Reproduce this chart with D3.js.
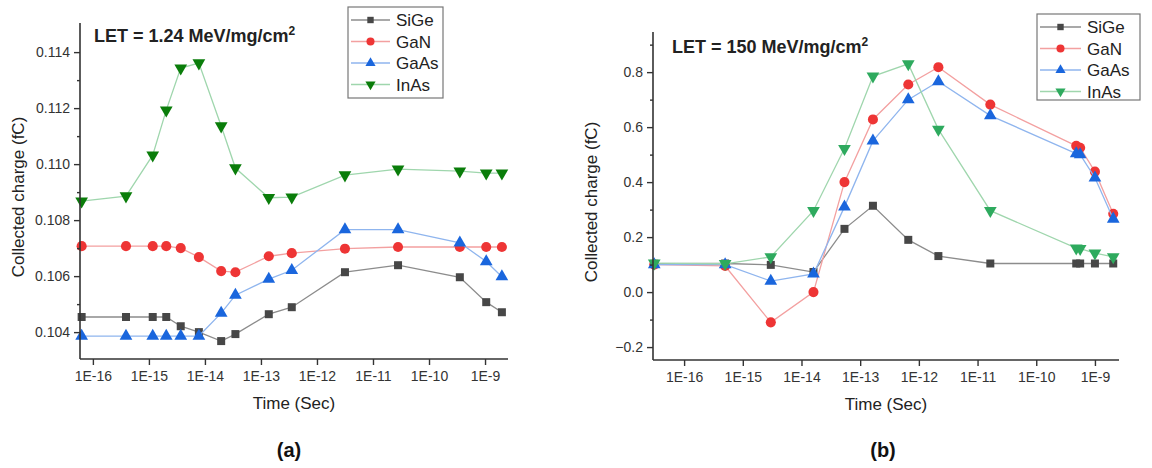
<!DOCTYPE html>
<html>
<head>
<meta charset="utf-8">
<script src="https://cdn.jsdelivr.net/npm/d3@7"></script>
<style>
  body { margin: 0; background: #fff; }
  svg { font-family: "Liberation Sans", Arial, sans-serif; }
</style>
</head>
<body>
<svg id="chart" width="1152" height="468"></svg>
<script>
// ---- data ----
const seriesKeys = ['SiGe', 'GaN', 'GaAs', 'InAs'];

// panel (a) LET = 1.24
const timeA = [6.3e-17, 3.9e-16, 1.17e-15, 2.04e-15, 3.7e-15, 7.8e-15, 1.95e-14, 3.5e-14,
               1.38e-13, 3.55e-13, 3.16e-12, 2.8e-11, 3.55e-10, 1.05e-9, 2e-9];
const sigeA = [0.10454, 0.10454, 0.10454, 0.10454, 0.10421, 0.10400, 0.10368, 0.10393,
               0.10464, 0.10489, 0.10614, 0.10639, 0.10596, 0.10507, 0.10471];
const ganA  = [0.10707, 0.10707, 0.10707, 0.10707, 0.10700, 0.10668, 0.10618, 0.10614,
               0.10671, 0.10682, 0.10698, 0.10704, 0.10704, 0.10704, 0.10704];
const gaasA = [0.10386, 0.10386, 0.10386, 0.10386, 0.10386, 0.10386, 0.10468, 0.10532,
               0.10589, 0.10621, 0.10766, 0.10766, 0.10719, 0.10652, 0.10598];
const inasA = [0.10868, 0.10886, 0.11032, 0.11193, 0.11343, 0.11361, 0.11136, 0.10986,
               0.10880, 0.10882, 0.10961, 0.10982, 0.10975, 0.10968, 0.10968];

// panel (b) LET = 150
const timeB = [3.1e-17, 5e-16, 3e-15, 1.6e-14, 5.4e-14, 1.65e-13, 6.6e-13, 2.15e-12,
               1.65e-11, 4.8e-10, 5.6e-10, 1e-9, 2.05e-9];
const sigeB = [0.103, 0.104, 0.099, 0.073, 0.230, 0.314, 0.190, 0.131, 0.104, 0.104, 0.104, 0.104, 0.104];
const ganB  = [0.100, 0.095, -0.110, 0.000, 0.400, 0.628, 0.755, 0.818, 0.682, 0.532, 0.525, 0.438, 0.285];
const gaasB = [0.100, 0.100, 0.040, 0.066, 0.310, 0.550, 0.700, 0.766, 0.642, 0.504, 0.500, 0.416, 0.266];
const inasB = [0.105, 0.103, 0.128, 0.296, 0.522, 0.785, 0.830, 0.592, 0.296, 0.160, 0.158, 0.142, 0.128];

const xTicks = [1e-16, 1e-15, 1e-14, 1e-13, 1e-12, 1e-11, 1e-10, 1e-9];
const yTicksA = [0.104, 0.106, 0.108, 0.110, 0.112, 0.114];
const yMinorA = [0.105, 0.107, 0.109, 0.111, 0.113];
const yTicksB = [-0.2, 0.0, 0.2, 0.4, 0.6, 0.8];
const yMinorB = [-0.1, 0.1, 0.3, 0.5, 0.7, 0.9];

const svg = d3.select('#chart');
const axisColor = '#333';

const markerColor = {SiGe: '#474747', GaN: '#ee3535', GaAs: '#1a66dd', InAs: '#0a7d0a'};
const lineColor = {SiGe: '#8c8c8c', GaN: '#f3a0a0', GaAs: '#8fb5ee', InAs: '#9fd6ad'};

function markerPath(key) {
    if (key == 'SiGe') return d3.symbol(d3.symbolSquare, 64)();
    if (key == 'GaN') return d3.symbol(d3.symbolCircle, 80)();
    return d3.symbol(d3.symbolTriangle, 70)();
}

function drawPanel(p) {
    const x = d3.scaleLog().domain(p.xDomain).range([p.left, p.right]);
    const y = d3.scaleLinear().domain(p.yDomain).range([p.bottom, p.top]);
    const g = svg.append('g');

    // lines + markers
    p.series.forEach(s => {
        const pts = p.time.map((t, i) => [t, s.values[i]]);
        const mc = s.key == 'InAs' ? p.inasMarker : markerColor[s.key];
        g.append('path')
            .datum(pts)
            .attr('fill', 'none')
            .attr('stroke', lineColor[s.key])
            .attr('stroke-width', 1.3)
            .attr('d', d3.line().x(d => x(d[0])).y(d => y(d[1])));
        g.selectAll(null)
            .data(pts)
            .join('path')
            .attr('d', markerPath(s.key))
            .attr('fill', mc)
            .attr('transform', d => `translate(${x(d[0])},${y(d[1])})` + (s.key == 'InAs' ? ' rotate(180)' : ''));
    });

    // axes
    const xAxis = g.append('g')
        .attr('transform', `translate(0,${p.bottom})`)
        .call(d3.axisBottom(x).tickValues(xTicks).tickSize(6).tickPadding(6)
            .tickFormat(d => '1E' + Math.round(Math.log10(d))));
    const yAxis = g.append('g')
        .attr('transform', `translate(${p.left},0)`)
        .call(d3.axisLeft(y).tickValues(p.yTicks).tickSize(6).tickPadding(4)
            .tickFormat(d3.format(p.yFormat)));
    g.append('g')
        .attr('transform', `translate(${p.left},0)`)
        .call(d3.axisLeft(y).tickValues(p.yMinor).tickSize(3).tickFormat(''))
        .select('.domain').remove();

    [xAxis, yAxis].forEach(a => {
        a.select('.domain').attr('stroke', axisColor).attr('stroke-width', 1.6)
            .attr('d', a === xAxis ? `M${p.left},0H${p.right}` : `M0,${p.bottom}V${p.top}`);
        a.selectAll('.tick text').attr('fill', axisColor).style('font-size', '14px')
            .style('font-family', '"Liberation Sans", Arial, sans-serif');
    });
    g.selectAll('.tick line').attr('stroke', axisColor).attr('stroke-width', 1.4);

    // axis titles
    g.append('text')
        .attr('x', (p.left + p.right) / 2)
        .attr('y', p.bottom + 50)
        .attr('text-anchor', 'middle')
        .style('font-size', '17px')
        .attr('fill', '#222')
        .text('Time (Sec)');

    g.append('text')
        .attr('transform', `translate(${p.left - 56},${(p.top + p.bottom) / 2 + 6}) rotate(-90)`)
        .attr('text-anchor', 'middle')
        .style('font-size', '17px')
        .attr('fill', '#222')
        .text('Collected charge (fC)');

    // LET title
    const t = g.append('text')
        .attr('x', p.titleX)
        .attr('y', p.titleY)
        .style('font-size', '18px')
        .style('font-weight', 'bold')
        .attr('fill', '#222')
        .text(p.title);
    t.append('tspan').attr('dy', -7).style('font-size', '12px').text('2');

    // legend
    const lg = g.append('g').attr('transform', `translate(${p.legendX},${p.legendY})`);
    lg.append('rect')
        .attr('width', p.legendW).attr('height', p.legendH)
        .attr('fill', '#fff').attr('stroke', '#777').attr('stroke-width', 1.2);
    seriesKeys.forEach((k, i) => {
        const yy = 13 + i * p.legendStep;
        lg.append('line')
            .attr('x1', 3).attr('x2', p.legendLine)
            .attr('y1', yy).attr('y2', yy)
            .attr('stroke', lineColor[k]).attr('stroke-width', 1.3);
        lg.append('path')
            .attr('d', markerPath(k))
            .attr('fill', k == 'InAs' ? p.inasMarker : markerColor[k])
            .attr('transform', `translate(${(3 + p.legendLine) / 2},${yy})` + (k == 'InAs' ? ' rotate(180)' : '') + ' scale(0.8)');
        lg.append('text')
            .attr('x', p.legendLine + 6)
            .attr('y', yy + 6)
            .style('font-size', '17px')
            .attr('fill', '#222')
            .text(k);
    });

    // panel letter
    g.append('text')
        .attr('x', p.letterX)
        .attr('y', 457)
        .attr('text-anchor', 'middle')
        .style('font-size', '20px')
        .style('font-weight', 'bold')
        .attr('fill', '#111')
        .text(p.letter);
}

drawPanel({
    time: timeA,
    series: [{key: 'SiGe', values: sigeA}, {key: 'GaN', values: ganA},
             {key: 'GaAs', values: gaasA}, {key: 'InAs', values: inasA}],
    xDomain: [Math.pow(10, -16.23), Math.pow(10, -8.59)],
    yDomain: [0.10304, 0.11504],
    left: 80, right: 508, top: 23, bottom: 359,
    yTicks: yTicksA, yMinor: yMinorA, yFormat: '.3f',
    inasMarker: '#0a7d0a',
    title: 'LET = 1.24 MeV/mg/cm', titleX: 94, titleY: 42,
    legendX: 348, legendY: 7, legendW: 95, legendH: 91, legendStep: 21.5, legendLine: 42,
    letter: '(a)', letterX: 289
});

drawPanel({
    time: timeB,
    series: [{key: 'SiGe', values: sigeB}, {key: 'GaN', values: ganB},
             {key: 'GaAs', values: gaasB}, {key: 'InAs', values: inasB}],
    xDomain: [Math.pow(10, -16.53), Math.pow(10, -8.59)],
    yDomain: [-0.247, 0.946],
    left: 653, right: 1119, top: 32, bottom: 360,
    yTicks: yTicksB, yMinor: yMinorB, yFormat: '.1f',
    inasMarker: '#2eaa5e',
    title: 'LET = 150 MeV/mg/cm', titleX: 672, titleY: 53,
    legendX: 1037, legendY: 14, legendW: 103, legendH: 86, legendStep: 21.5, legendLine: 44,
    letter: '(b)', letterX: 883
});
</script>
</body>
</html>
